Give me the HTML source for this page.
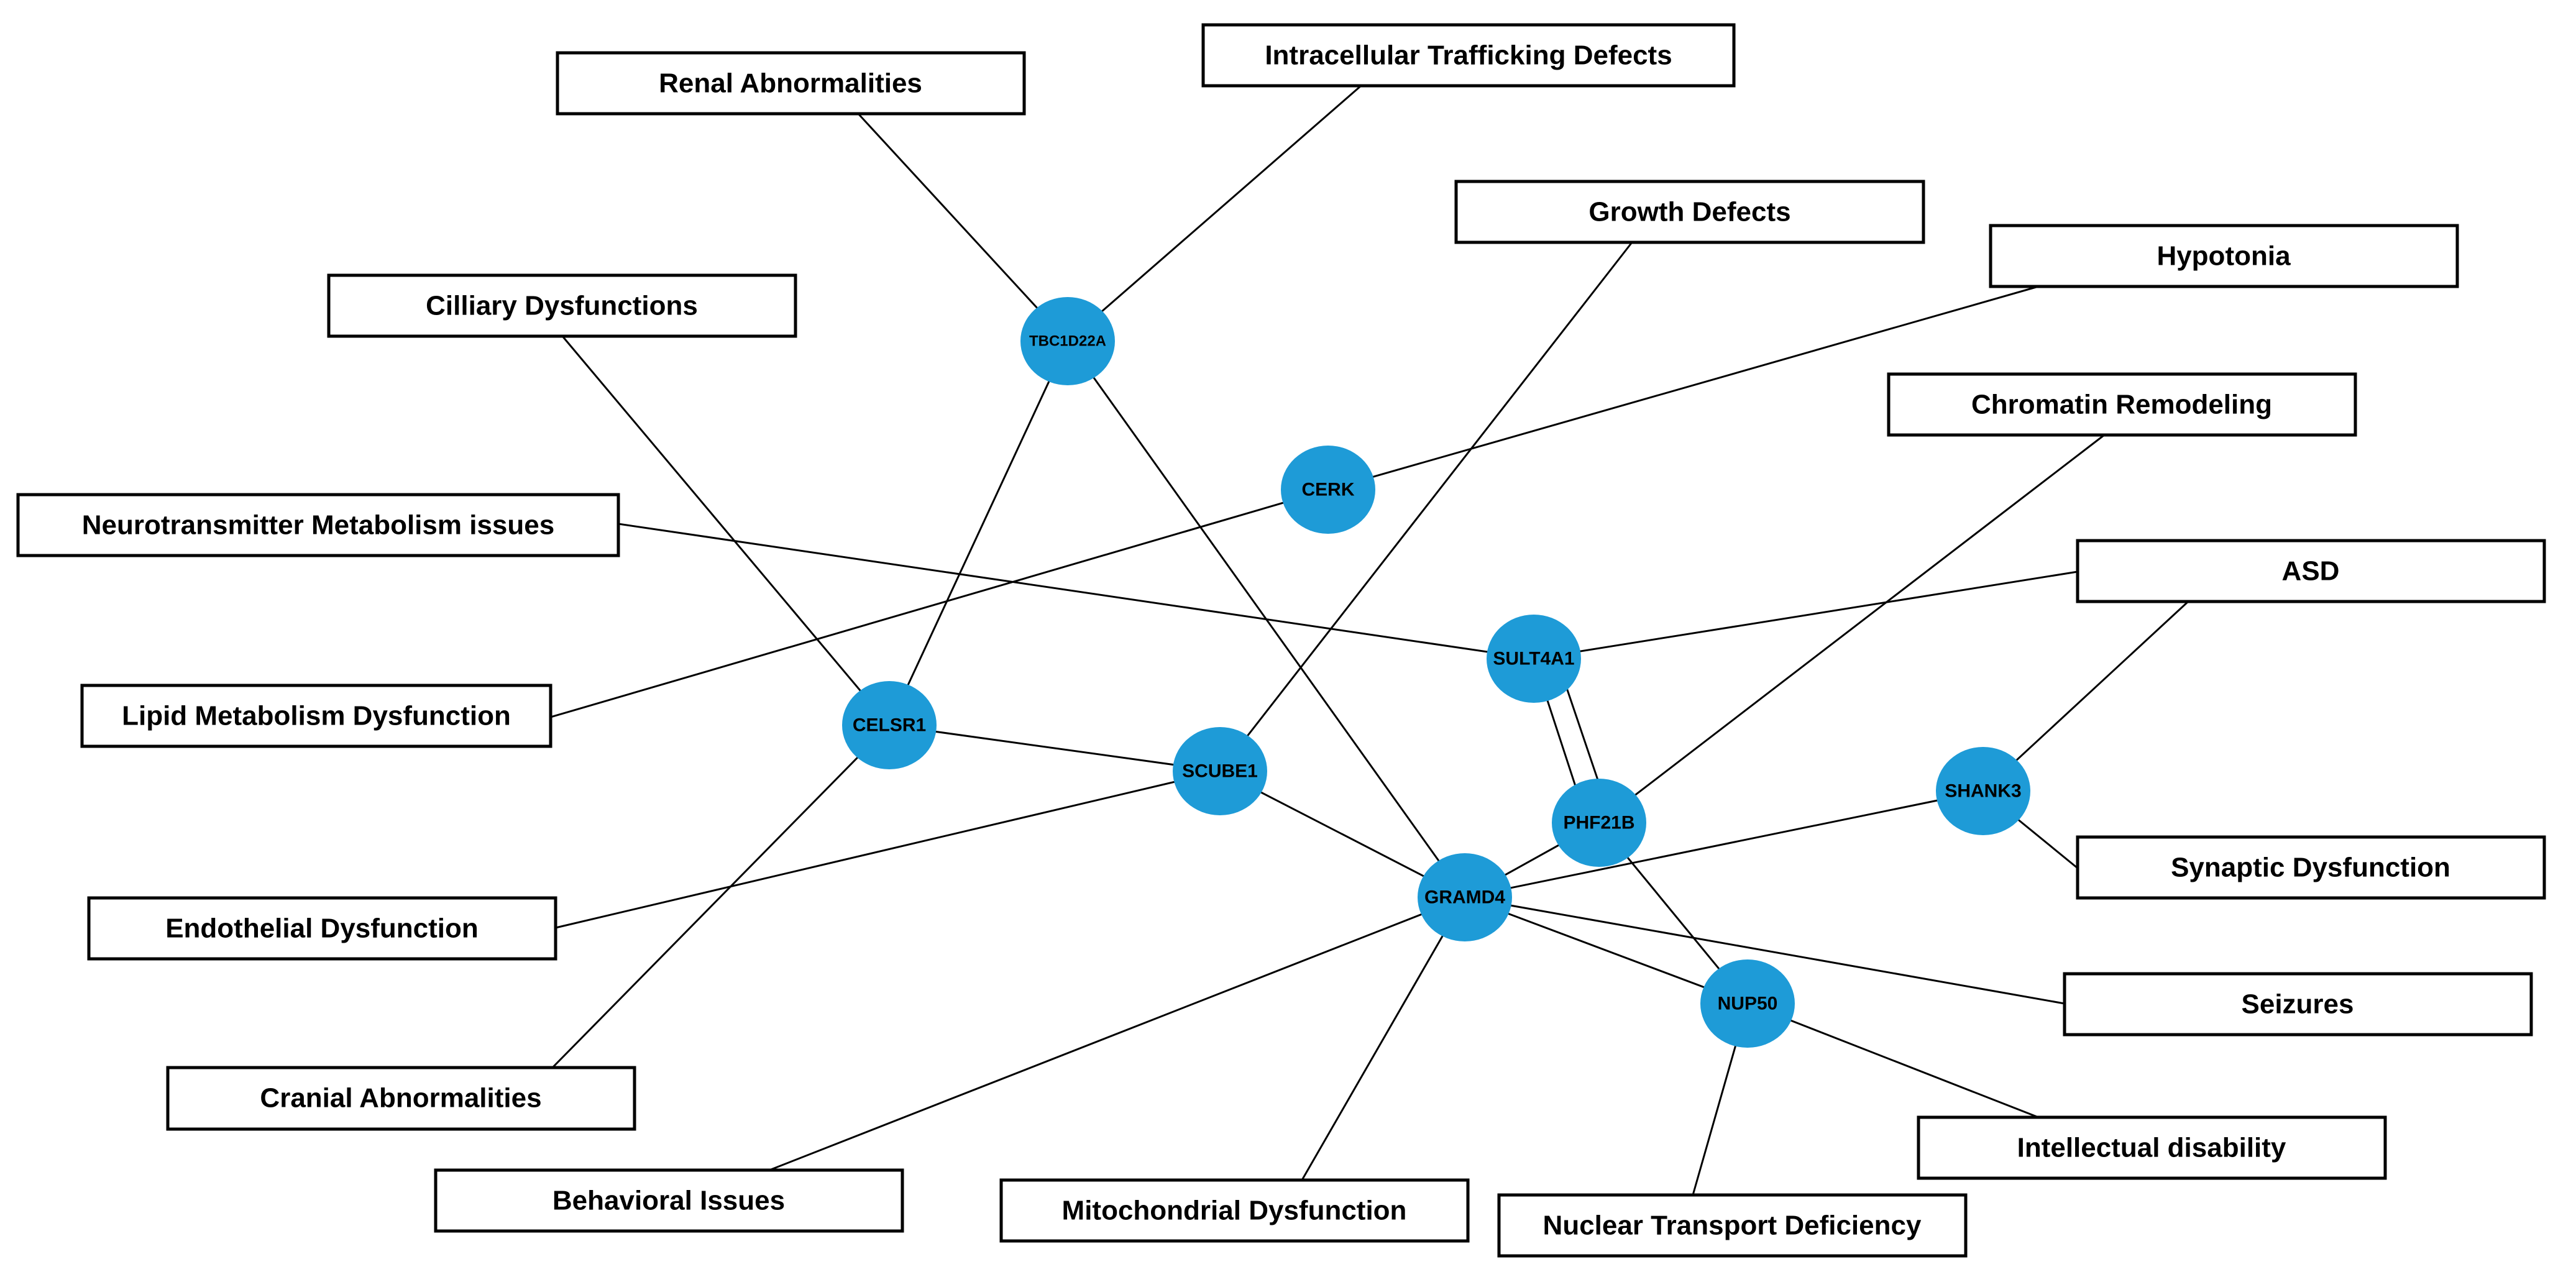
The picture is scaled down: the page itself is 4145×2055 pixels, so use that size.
<!DOCTYPE html>
<html><head><meta charset="utf-8"><style>
html,body{margin:0;padding:0;background:#fff;}
svg{display:block;}
.b{fill:#fff;stroke:#000;stroke-width:5;}
.t{font-family:"Liberation Sans",sans-serif;font-weight:bold;font-size:44px;fill:#000;text-anchor:middle;dominant-baseline:central;}
.n{fill:#1e9bd7;}
.nt{font-family:"Liberation Sans",sans-serif;font-weight:bold;font-size:30px;fill:#000;text-anchor:middle;dominant-baseline:central;}
line{stroke:#000;stroke-width:3;}
</style></head><body>
<svg width="4145" height="2055" viewBox="0 0 4145 2055" xmlns="http://www.w3.org/2000/svg">
<rect width="4145" height="2055" fill="#fff"/>
<!-- edges -->
<line x1="1381" y1="183" x2="1718" y2="549"/>
<line x1="2190" y1="138" x2="1718" y2="549"/>
<line x1="905" y1="541" x2="1431" y2="1167"/>
<line x1="2626" y1="390" x2="1963" y2="1241"/>
<line x1="3280" y1="461" x2="2137" y2="788"/>
<line x1="3386" y1="700" x2="2573" y2="1324"/>
<line x1="995" y1="843" x2="2468" y2="1060"/>
<line x1="3343" y1="920" x2="2468" y2="1060"/>
<line x1="3521" y1="968" x2="3191" y2="1273"/>
<line x1="886" y1="1154" x2="2137" y2="788"/>
<line x1="894" y1="1493" x2="1963" y2="1241"/>
<line x1="889" y1="1718" x2="1431" y2="1167"/>
<line x1="3343" y1="1397" x2="3191" y2="1273"/>
<line x1="3322" y1="1615" x2="2357" y2="1444"/>
<line x1="3280" y1="1798" x2="2812" y2="1615"/>
<line x1="1238" y1="1883" x2="2357" y2="1444"/>
<line x1="2095" y1="1899" x2="2357" y2="1444"/>
<line x1="2724" y1="1923" x2="2812" y2="1615"/>
<line x1="1718" y1="549" x2="1431" y2="1167"/>
<line x1="1718" y1="549" x2="2357" y2="1444"/>
<line x1="1431" y1="1167" x2="1963" y2="1241"/>
<line x1="1963" y1="1241" x2="2357" y2="1444"/>
<line x1="2468" y1="1060" x2="2553" y2="1320"/>
<line x1="2505" y1="1060" x2="2593" y2="1320"/>
<line x1="2573" y1="1324" x2="2357" y2="1444"/>
<line x1="2573" y1="1324" x2="2812" y2="1615"/>
<line x1="2357" y1="1444" x2="3191" y2="1273"/>
<line x1="2357" y1="1444" x2="2812" y2="1615"/>
<!-- boxes -->
<rect class="b" x="897" y="85" width="751" height="98"/><text class="t" x="1272" y="134">Renal Abnormalities</text>
<rect class="b" x="1936" y="40" width="854" height="98"/><text class="t" x="2363" y="89">Intracellular Trafficking Defects</text>
<rect class="b" x="2343" y="292" width="752" height="98"/><text class="t" x="2719" y="341">Growth Defects</text>
<rect class="b" x="3203" y="363" width="751" height="98"/><text class="t" x="3578" y="412">Hypotonia</text>
<rect class="b" x="529" y="443" width="751" height="98"/><text class="t" x="904" y="492">Cilliary Dysfunctions</text>
<rect class="b" x="3039" y="602" width="751" height="98"/><text class="t" x="3414" y="651">Chromatin Remodeling</text>
<rect class="b" x="29" y="796" width="966" height="98"/><text class="t" x="512" y="845">Neurotransmitter Metabolism issues</text>
<rect class="b" x="3343" y="870" width="751" height="98"/><text class="t" x="3718" y="919">ASD</text>
<rect class="b" x="132" y="1103" width="754" height="98"/><text class="t" x="509" y="1152">Lipid Metabolism Dysfunction</text>
<rect class="b" x="3343" y="1347" width="751" height="98"/><text class="t" x="3718" y="1396">Synaptic Dysfunction</text>
<rect class="b" x="143" y="1445" width="751" height="98"/><text class="t" x="518" y="1494">Endothelial Dysfunction</text>
<rect class="b" x="3322" y="1567" width="751" height="98"/><text class="t" x="3697" y="1616">Seizures</text>
<rect class="b" x="270" y="1718" width="751" height="99"/><text class="t" x="645" y="1767">Cranial Abnormalities</text>
<rect class="b" x="3087" y="1798" width="751" height="98"/><text class="t" x="3462" y="1847">Intellectual disability</text>
<rect class="b" x="701" y="1883" width="751" height="98"/><text class="t" x="1076" y="1932">Behavioral Issues</text>
<rect class="b" x="1611" y="1899" width="751" height="98"/><text class="t" x="1986" y="1948">Mitochondrial Dysfunction</text>
<rect class="b" x="2412" y="1923" width="751" height="98"/><text class="t" x="2787" y="1972">Nuclear Transport Deficiency</text>
<!-- nodes -->
<ellipse class="n" cx="1718" cy="549" rx="76" ry="71"/><text class="nt" x="1718" y="549" style="font-size:24px">TBC1D22A</text>
<ellipse class="n" cx="2137" cy="788" rx="76" ry="71"/><text class="nt" x="2137" y="788">CERK</text>
<ellipse class="n" cx="2468" cy="1060" rx="76" ry="71"/><text class="nt" x="2468" y="1060">SULT4A1</text>
<ellipse class="n" cx="1431" cy="1167" rx="76" ry="71"/><text class="nt" x="1431" y="1167">CELSR1</text>
<ellipse class="n" cx="1963" cy="1241" rx="76" ry="71"/><text class="nt" x="1963" y="1241">SCUBE1</text>
<ellipse class="n" cx="2573" cy="1324" rx="76" ry="71"/><text class="nt" x="2573" y="1324">PHF21B</text>
<ellipse class="n" cx="3191" cy="1273" rx="76" ry="71"/><text class="nt" x="3191" y="1273">SHANK3</text>
<ellipse class="n" cx="2357" cy="1444" rx="76" ry="71"/><text class="nt" x="2357" y="1444">GRAMD4</text>
<ellipse class="n" cx="2812" cy="1615" rx="76" ry="71"/><text class="nt" x="2812" y="1615">NUP50</text>
</svg>
</body></html>
